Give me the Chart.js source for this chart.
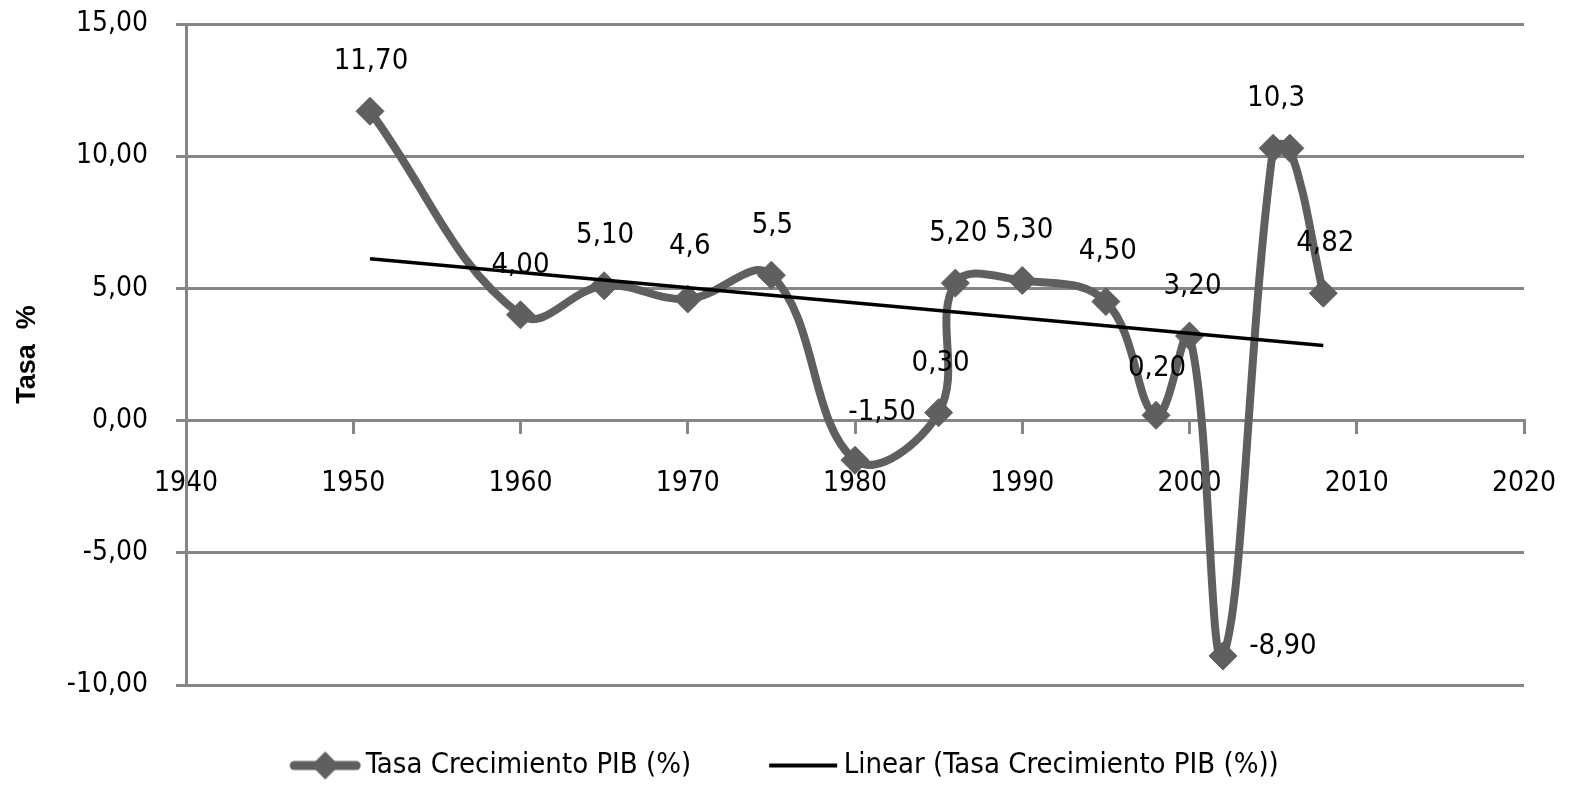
<!DOCTYPE html>
<html>
<head>
<meta charset="utf-8">
<script src="https://cdn.jsdelivr.net/npm/chart.js@4/dist/chart.umd.min.js"></script>
<style>
  body { margin: 0; background: #fff; }
  canvas { display: block; }
</style>
</head>
<body>
<canvas id="myChart" width="1577" height="790"></canvas>
<script>
// data
const years = [1951, 1960, 1965, 1970, 1975, 1980, 1985, 1986, 1990, 1995, 1998, 2000, 2002, 2005, 2006, 2008];
const growthRates = [11.7, 4.0, 5.1, 4.6, 5.5, -1.5, 0.3, 5.2, 5.3, 4.5, 0.2, 3.2, -8.9, 10.3, 10.3, 4.82];
const valueLabels = ["11,70", "4,00", "5,10", "4,6", "5,5", "-1,50", "0,30", "5,20", "5,30", "4,50", "0,20", "3,20", "-8,90", "10,3", "", "4,82"];
const trendYears = [1951, 2008];
const trendValues = [6.12, 2.84];
const seriesNames = ["Tasa Crecimiento PIB (%)", "Linear (Tasa Crecimiento PIB (%))"];

// where each value label sits, relative to its point
const labelOffsets = [[1, -50], [0, -49], [1, -50], [2, -53], [1, -50], [27, -48], [2, -49], [3, -50],
  [2, -50], [2, -50], [1, -47], [3, -50], [60, -9], [3, -50], [0, 0], [2, -50]];

const NARROW = "'Liberation Sans Narrow', 'DejaVu Sans Condensed', sans-serif";
const GRID = "#868686";
const SERIES = "#5f5f5f";

function comma(v, digits) {
  return v.toFixed(digits).replace(".", ",");
}

function makeIcon(w, h, draw) {
  const c = document.createElement("canvas");
  c.width = w;
  c.height = h;
  draw(c.getContext("2d"));
  return c;
}

// legend symbols sit a little right of their box so they hug the text
const ICON_SHIFT = 10;

const seriesIcon = makeIcon(72 + 2 * ICON_SHIFT, 32, (g) => {
  const s = 2 * ICON_SHIFT;
  g.strokeStyle = SERIES;
  g.lineWidth = 9;
  g.lineCap = "round";
  g.beginPath();
  g.moveTo(s + 5, 16);
  g.lineTo(s + 67, 16);
  g.stroke();
  g.fillStyle = SERIES;
  g.beginPath();
  g.moveTo(s + 36, 2);
  g.lineTo(s + 50, 16);
  g.lineTo(s + 36, 30);
  g.lineTo(s + 22, 16);
  g.closePath();
  g.fill();
});

const trendIcon = makeIcon(72 + 2 * ICON_SHIFT, 6, (g) => {
  g.fillStyle = "#000";
  g.fillRect(2 * ICON_SHIFT + 2, 1, 68, 4);
});

const valueLabelPlugin = {
  id: "valueLabels",
  afterDatasetsDraw(chart) {
    const meta = chart.getDatasetMeta(0);
    const ctx = chart.ctx;
    ctx.save();
    ctx.font = "29px " + NARROW;
    ctx.fillStyle = "#000";
    ctx.textAlign = "center";
    ctx.textBaseline = "middle";
    meta.data.forEach((pt, i) => {
      if (!valueLabels[i]) return;
      ctx.fillText(valueLabels[i], pt.x + labelOffsets[i][0], pt.y + labelOffsets[i][1]);
    });
    ctx.restore();
  },
};

const ctx = document.getElementById("myChart");
new Chart(ctx, {
  type: "line",
  data: {
    datasets: [
      {
        label: seriesNames[0],
        data: years.map((year, i) => ({ x: year, y: growthRates[i] })),
        borderColor: SERIES,
        backgroundColor: SERIES,
        borderWidth: 8,
        borderCapStyle: "round",
        borderJoinStyle: "round",
        tension: 0.4,
        pointStyle: "rectRot",
        pointRadius: 14,
        pointBackgroundColor: SERIES,
        pointBorderColor: SERIES,
        pointBorderWidth: 1,
        order: 1,
      },
      {
        label: seriesNames[1],
        data: trendYears.map((year, i) => ({ x: year, y: trendValues[i] })),
        borderColor: "#000",
        backgroundColor: "#000",
        borderWidth: 3.5,
        pointRadius: 0,
        tension: 0,
        order: 0,
      },
    ],
  },
  options: {
    responsive: false,
    animation: false,
    devicePixelRatio: 1,
    layout: { autoPadding: false, padding: { top: 24, right: 53, bottom: 0, left: 34 } },
    scales: {
      x: {
        type: "linear",
        position: { y: 0 },
        min: 1940,
        max: 2020,
        // tick padding would otherwise push the plot in from the right
        afterFit: (scale) => { scale.paddingLeft = 0; scale.paddingRight = 0; },
        ticks: {
          stepSize: 10,
          padding: 34,
          color: "#000",
          font: { family: NARROW, size: 28 },
          callback: (v) => String(v),
        },
        grid: {
          display: true,
          drawOnChartArea: false,
          drawTicks: true,
          tickLength: 12,
          color: GRID,
          lineWidth: 3,
        },
        border: { display: true, color: GRID, width: 3 },
      },
      y: {
        min: -10,
        max: 15,
        afterFit: (scale) => {
          scale.width = 152;
          scale.paddingTop = 0;
          scale.paddingBottom = 0;
        },
        ticks: {
          stepSize: 5,
          padding: 28,
          color: "#000",
          font: { family: NARROW, size: 28 },
          callback: (v) => comma(v, 2),
        },
        grid: { color: GRID, lineWidth: 3, tickLength: 10 },
        border: { display: true, color: GRID, width: 3 },
        title: {
          display: true,
          text: "Tasa  %",
          color: "#000",
          font: { family: "'Liberation Sans', Arial, sans-serif", size: 27, weight: "bold" },
          padding: { top: -23, bottom: 0 },
        },
      },
    },
    plugins: {
      tooltip: { enabled: false },
      legend: {
        position: "bottom",
        labels: {
          usePointStyle: true,
          pointStyleWidth: 72,
          padding: 66,
          color: "#000",
          font: { family: NARROW, size: 29 },
          sort: (a, b) => a.datasetIndex - b.datasetIndex,
          generateLabels: (chart) => {
            const items = Chart.defaults.plugins.legend.labels.generateLabels(chart);
            items.forEach((item) => {
              item.pointStyle = item.datasetIndex === 0 ? seriesIcon : trendIcon;
            });
            return items;
          },
        },
      },
    },
  },
  plugins: [valueLabelPlugin],
});
</script>
</body>
</html>
